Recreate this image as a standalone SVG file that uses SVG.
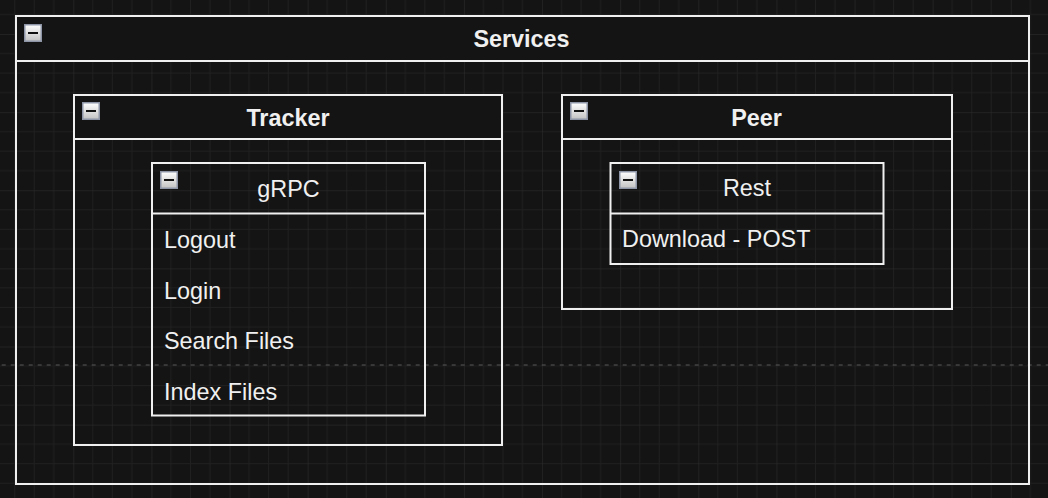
<svg xmlns="http://www.w3.org/2000/svg" xmlns:xlink="http://www.w3.org/1999/xlink" width="1048" height="498" viewBox="0 0 1048 498">
  <style>
    .box { fill: none; stroke: #f0f0f0; stroke-width: 2; }
    .hdr { fill: #141414; stroke: #f0f0f0; stroke-width: 2; }
    .sep { stroke: #f0f0f0; stroke-width: 2; }
    .t { font-family: "Liberation Sans", Arial, sans-serif; font-size: 23.4px; fill: #f0f0f0; }
    .b { font-weight: bold; }
    .c { text-anchor: middle; }
  </style>
  <defs>
    <pattern id="grid" patternUnits="userSpaceOnUse" x="73.3" y="34" width="78.125" height="78.125">
      <rect x="0" y="0" width="78.125" height="78.125" fill="#141414"/>
      <g stroke="#202020" stroke-width="1">
        <line x1="19.53" y1="0" x2="19.53" y2="78.125"/>
        <line x1="39.06" y1="0" x2="39.06" y2="78.125"/>
        <line x1="58.59" y1="0" x2="58.59" y2="78.125"/>
        <line x1="0" y1="19.53" x2="78.125" y2="19.53"/>
        <line x1="0" y1="39.06" x2="78.125" y2="39.06"/>
        <line x1="0" y1="58.59" x2="78.125" y2="58.59"/>
      </g>
      <g stroke="#2f2f2f" stroke-width="1">
        <line x1="0" y1="0" x2="0" y2="78.125"/>
        <line x1="0" y1="0" x2="78.125" y2="0"/>
      </g>
    </pattern>
    <linearGradient id="ig" x1="0" y1="0" x2="0" y2="1">
      <stop offset="0" stop-color="#ffffff"/>
      <stop offset="1" stop-color="#c2c2c2"/>
    </linearGradient>
    <g id="collapse">
      <rect x="0.75" y="0.75" width="16.5" height="16.5" fill="url(#ig)" stroke="#8d95a6" stroke-width="1.5"/>
      <rect x="4" y="8" width="10" height="2" fill="#111111"/>
    </g>
  </defs>

  <rect x="0" y="0" width="1048" height="498" fill="url(#grid)"/>
  <path d="M-7.3 365H1048" stroke="#585858" stroke-width="1" stroke-dasharray="4 5"/>

  <g id="services">
    <rect class="box" x="16" y="16" width="1013" height="468"/>
    <rect class="hdr" x="16" y="16" width="1013" height="45"/>
    <use xlink:href="#collapse" x="24" y="24"/>
    <text class="t b c" x="521.5" y="47">Services</text>
  </g>

  <g id="tracker">
    <rect class="box" x="74" y="95" width="428" height="350"/>
    <rect class="hdr" x="74" y="95" width="428" height="44"/>
    <use xlink:href="#collapse" x="82" y="102"/>
    <text class="t b c" x="288" y="126">Tracker</text>
  </g>

  <g id="grpc">
    <rect class="box" x="152" y="163" width="273" height="252.5"/>
    <line class="sep" x1="152" y1="213.5" x2="425" y2="213.5"/>
    <use xlink:href="#collapse" x="160" y="171"/>
    <text class="t c" x="288.5" y="196.5">gRPC</text>
    <text class="t" x="164" y="248">Logout</text>
    <text class="t" x="164" y="299">Login</text>
    <text class="t" x="164" y="349">Search Files</text>
    <text class="t" x="164" y="400">Index Files</text>
  </g>

  <g id="peer">
    <rect class="box" x="562" y="95" width="390" height="214"/>
    <rect class="hdr" x="562" y="95" width="390" height="44"/>
    <use xlink:href="#collapse" x="570" y="102"/>
    <text class="t b c" x="756.5" y="126">Peer</text>
  </g>

  <g id="rest">
    <rect class="box" x="610.5" y="163" width="273" height="101"/>
    <line class="sep" x1="610.5" y1="213.5" x2="883.5" y2="213.5"/>
    <use xlink:href="#collapse" x="619" y="171"/>
    <text class="t c" x="747" y="196">Rest</text>
    <text class="t" x="622" y="247">Download - POST</text>
  </g>

  <g id="connectors"></g>
</svg>
